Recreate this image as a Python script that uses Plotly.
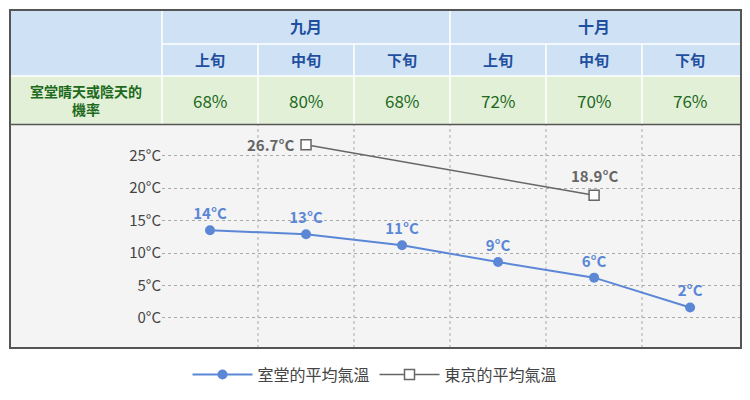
import plotly.graph_objects as go

months = ["九月", "十月"]
periods = ["上旬", "中旬", "下旬", "上旬", "中旬", "下旬"]
row_label = "室堂晴天或陰天的<br>機率"
probability = ["68%", "80%", "68%", "72%", "70%", "76%"]

murodo_temp = [13.5, 12.9, 11.2, 8.6, 6.2, 1.6]
murodo_text = ["<b>14°C</b>", "<b>13°C</b>", "<b>11°C</b>", "<b>9°C</b>", "<b>6°C</b>", "<b>2°C</b>"]
tokyo_x = [1, 4]
tokyo_temp = [26.7, 18.9]
tokyo_text = ["26.7°C", "18.9°C"]
y_ticks = [0, 5, 10, 15, 20, 25]

# page has an 8px body margin, so map window pixels onto a 734x384 figure
W, H = 734, 384
def px(x): return (x - 8) / W
def py(y): return 1 - (y - 8) / H

BLUE = "#5b87d6"
GRAY = "#666666"
HEAD_BG = "#cfe2f5"
HEAD_TX = "#1f4f9e"
GREEN_BG = "#e3f0d8"
GREEN_TX = "#1d6a1d"

fig = go.Figure()
fig.add_trace(go.Scatter(
    x=list(range(6)), y=murodo_temp, mode="lines+markers+text", text=murodo_text,
    textposition="top center", textfont=dict(color=BLUE, size=15),
    line=dict(color=BLUE, width=2), marker=dict(size=10, color=BLUE),
    name="室堂的平均氣溫"))
fig.add_trace(go.Scatter(
    x=tokyo_x, y=tokyo_temp, mode="lines+markers", line=dict(color=GRAY, width=1.5),
    marker=dict(size=10, symbol="square", color="white", line=dict(color=GRAY, width=1.5)),
    name="東京的平均氣溫"))
for xv, yv, t in zip(tokyo_x, tokyo_temp, tokyo_text):
    fig.add_annotation(x=xv, y=yv, text="<b>" + t + "</b>", showarrow=False,
                       xanchor="right" if xv == 1 else "center", xshift=-10 if xv == 1 else 0,
                       yshift=0 if xv == 1 else 20, font=dict(color=GRAY, size=15))

shapes = []
shapes.append(dict(type="rect", xref="paper", yref="paper", x0=px(10), x1=px(741),
                   y0=py(358), y1=py(128), fillcolor="#f4f4f4", line=dict(width=0), layer="below"))
for i in range(1, 6):
    shapes.append(dict(type="line", xref="paper", yref="paper", x0=px(162 + 96 * i), x1=px(162 + 96 * i),
                       y0=py(358), y1=py(128), line=dict(color="#aaaaaa", width=1, dash="dot"), layer="below"))
shapes.append(dict(type="rect", xref="paper", yref="paper", x0=px(10), x1=px(741), y0=py(78), y1=py(10),
                   fillcolor=HEAD_BG, line=dict(width=0)))
shapes.append(dict(type="rect", xref="paper", yref="paper", x0=px(10), x1=px(741), y0=py(128), y1=py(78),
                   fillcolor=GREEN_BG, line=dict(width=0)))
cell_line = dict(color="white", width=1.5)
shapes.append(dict(type="line", xref="paper", yref="paper", x0=px(162), x1=px(741), y0=py(45), y1=py(45), line=cell_line))
shapes.append(dict(type="line", xref="paper", yref="paper", x0=px(10), x1=px(741), y0=py(78), y1=py(78), line=cell_line))
shapes.append(dict(type="line", xref="paper", yref="paper", x0=px(162), x1=px(162), y0=py(128), y1=py(10), line=cell_line))
for i in range(1, 6):
    top = 10 if i == 3 else 45
    shapes.append(dict(type="line", xref="paper", yref="paper", x0=px(162 + 96 * i), x1=px(162 + 96 * i),
                       y0=py(128), y1=py(top), line=cell_line))
shapes.append(dict(type="line", xref="paper", yref="paper", x0=px(10), x1=px(741), y0=py(128), y1=py(128),
                   line=dict(color="#555555", width=1.5)))
shapes.append(dict(type="rect", xref="paper", yref="paper", x0=px(10), x1=px(741), y0=py(358), y1=py(10),
                   line=dict(color="#555555", width=2)))

anns = []
for j, m in enumerate(months):
    anns.append(dict(x=px(162 + 288 * j + 144), y=py(27), text="<b>" + m + "</b>",
                     font=dict(color=HEAD_TX, size=16)))
for i, p in enumerate(periods):
    anns.append(dict(x=px(210 + 96 * i), y=py(61), text="<b>" + p + "</b>", font=dict(color=HEAD_TX, size=15)))
    anns.append(dict(x=px(210 + 96 * i), y=py(103), text=probability[i], font=dict(color=GREEN_TX, size=17)))
anns.append(dict(x=px(86), y=py(103), text="<b>" + row_label + "</b>", font=dict(color=GREEN_TX, size=14)))
for a in anns:
    a.update(xref="paper", yref="paper", showarrow=False, xanchor="center", yanchor="middle")
    fig.add_annotation(**a)

fig.update_layout(
    width=W, height=H, margin=dict(l=0, r=0, t=0, b=0),
    paper_bgcolor="white", plot_bgcolor="rgba(0,0,0,0)",
    font=dict(family="Noto Sans CJK TC, Noto Sans", color="#333333"),
    shapes=shapes,
    xaxis=dict(domain=[px(162), px(741)], range=[-0.5, 5.53], showticklabels=False,
               showgrid=False, zeroline=False),
    yaxis=dict(domain=[py(358), py(128)], range=[-4.64, 29.8], tickvals=y_ticks,
               ticktext=[f"{v}°C" for v in y_ticks], tickfont=dict(size=15, color="#444444"),
               showgrid=True, gridcolor="#aaaaaa", griddash="dot", zeroline=False, ticks=""),
    legend=dict(orientation="h", x=0.5, xanchor="center", y=py(368), yanchor="top",
                font=dict(size=16, color="#444444"), itemwidth=60),
)

fig.write_html("out.html")
